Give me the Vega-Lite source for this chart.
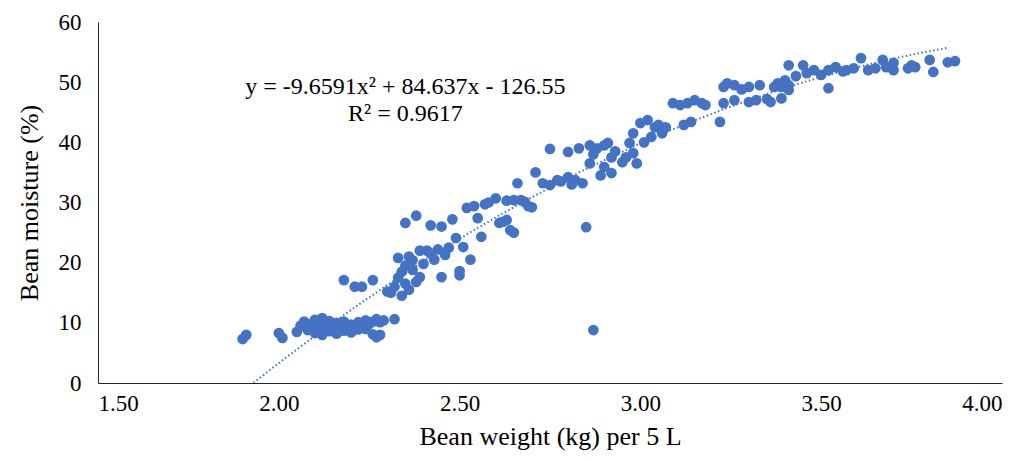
{
  "$schema": "https://vega.github.io/schema/vega-lite/v6.json",
  "autosize": "none",
  "width": 904,
  "height": 361,
  "padding": {"left": 98, "top": 22, "right": 13, "bottom": 78},
  "background": "white",
  "config": {"view": {"stroke": null}, "font": "Liberation Serif"},
  "datasets": {
    "pts": [
      {"w":1.90,"m":7.3},{"w":1.91,"m":8.0},{"w":2.00,"m":8.3},{"w":2.01,"m":7.5},
      {"w":2.05,"m":8.5},{"w":2.06,"m":9.5},{"w":2.07,"m":10.2},{"w":2.08,"m":8.8},{"w":2.09,"m":9.8},{"w":2.10,"m":10.5},{"w":2.10,"m":8.3},{"w":2.11,"m":9.2},{"w":2.12,"m":10.8},{"w":2.12,"m":8.0},{"w":2.13,"m":9.6},{"w":2.14,"m":10.3},{"w":2.14,"m":8.6},{"w":2.15,"m":9.1},{"w":2.16,"m":10.0},{"w":2.16,"m":8.2},{"w":2.17,"m":9.4},{"w":2.18,"m":8.7},{"w":2.18,"m":10.2},{"w":2.19,"m":9.0},{"w":2.20,"m":9.7},{"w":2.20,"m":8.4},{"w":2.21,"m":9.3},{"w":2.22,"m":10.1},{"w":2.22,"m":8.9},{"w":2.23,"m":9.6},{"w":2.24,"m":10.4},{"w":2.24,"m":9.0},{"w":2.25,"m":9.8},{"w":2.26,"m":10.2},{"w":2.26,"m":8.1},{"w":2.27,"m":10.6},{"w":2.27,"m":7.6},{"w":2.28,"m":10.1},{"w":2.28,"m":8.0},{"w":2.29,"m":10.4},{"w":2.32,"m":10.6},
      {"w":2.18,"m":17.1},{"w":2.21,"m":16.0},{"w":2.23,"m":16.0},{"w":2.26,"m":17.1},
      {"w":2.30,"m":15.2},{"w":2.31,"m":15.0},{"w":2.32,"m":16.0},{"w":2.33,"m":17.5},{"w":2.33,"m":20.8},{"w":2.34,"m":14.5},{"w":2.34,"m":18.5},{"w":2.35,"m":16.5},{"w":2.35,"m":19.5},{"w":2.35,"m":26.6},{"w":2.36,"m":15.5},{"w":2.36,"m":21.0},{"w":2.37,"m":18.8},{"w":2.37,"m":20.4},{"w":2.38,"m":27.8},{"w":2.38,"m":16.8},{"w":2.39,"m":17.6},{"w":2.39,"m":22.0},{"w":2.40,"m":19.8},{"w":2.41,"m":22.0},{"w":2.42,"m":26.2},{"w":2.42,"m":21.5},{"w":2.43,"m":20.5},{"w":2.44,"m":22.2},{"w":2.45,"m":17.6},{"w":2.45,"m":26.0},{"w":2.46,"m":21.3},{"w":2.47,"m":22.5},{"w":2.48,"m":27.2},{"w":2.49,"m":24.1},{"w":2.50,"m":17.9},{"w":2.50,"m":18.6},{"w":2.51,"m":22.6},{"w":2.52,"m":29.1},{"w":2.53,"m":20.5},{"w":2.54,"m":29.4},{"w":2.55,"m":27.4},{"w":2.56,"m":24.3},{"w":2.57,"m":29.7},{"w":2.58,"m":30.0},{"w":2.60,"m":30.7},{"w":2.61,"m":26.6},{"w":2.62,"m":26.8},{"w":2.63,"m":27.1},{"w":2.63,"m":30.3},{"w":2.64,"m":25.4},{"w":2.65,"m":30.4},{"w":2.65,"m":25.0},{"w":2.66,"m":33.2},{"w":2.67,"m":30.4},{"w":2.68,"m":30.1},{"w":2.69,"m":29.4},{"w":2.70,"m":29.2},
      {"w":2.87,"m":8.8},
      {"w":2.71,"m":35.0},{"w":2.73,"m":33.2},{"w":2.75,"m":32.9},{"w":2.75,"m":38.9},{"w":2.77,"m":33.7},{"w":2.78,"m":33.5},{"w":2.80,"m":34.2},{"w":2.80,"m":38.4},{"w":2.81,"m":33.0},{"w":2.82,"m":33.7},{"w":2.83,"m":39.0},{"w":2.84,"m":33.2},{"w":2.85,"m":25.9},{"w":2.86,"m":39.5},{"w":2.86,"m":36.5},{"w":2.87,"m":38.0},{"w":2.88,"m":39.0},{"w":2.89,"m":34.5},{"w":2.90,"m":39.5},{"w":2.90,"m":35.9},{"w":2.91,"m":39.9},{"w":2.92,"m":37.5},{"w":2.92,"m":34.9},{"w":2.93,"m":38.5},{"w":2.95,"m":36.7},{"w":2.96,"m":37.5},{"w":2.97,"m":39.9},{"w":2.98,"m":38.2},{"w":2.98,"m":41.5},{"w":2.99,"m":36.5},
      {"w":3.00,"m":43.2},{"w":3.01,"m":40.0},{"w":3.02,"m":43.7},{"w":3.03,"m":40.9},{"w":3.04,"m":42.5},{"w":3.05,"m":42.9},{"w":3.06,"m":41.5},{"w":3.07,"m":42.5},{"w":3.09,"m":46.5},{"w":3.11,"m":46.2},{"w":3.12,"m":42.9},{"w":3.13,"m":46.5},{"w":3.14,"m":43.4},{"w":3.15,"m":47.0},{"w":3.17,"m":46.5},{"w":3.18,"m":46.2},{"w":3.22,"m":43.4},{"w":3.23,"m":46.5},{"w":3.23,"m":49.2},{"w":3.24,"m":49.8},{"w":3.26,"m":47.0},{"w":3.26,"m":49.5},{"w":3.28,"m":48.8},{"w":3.30,"m":46.7},{"w":3.30,"m":49.2},{"w":3.32,"m":47.0},{"w":3.33,"m":49.5},{"w":3.35,"m":47.2},{"w":3.36,"m":46.7},{"w":3.37,"m":49.2},{"w":3.38,"m":49.8},{"w":3.39,"m":47.3},{"w":3.39,"m":49.2},{"w":3.40,"m":50.3},{"w":3.41,"m":49.5},{"w":3.41,"m":48.7},{"w":3.41,"m":52.8},{"w":3.43,"m":51.0},{"w":3.45,"m":52.8},{"w":3.46,"m":51.5},{"w":3.48,"m":52.0},{"w":3.50,"m":51.2},{"w":3.52,"m":49.0},{"w":3.52,"m":52.0},{"w":3.54,"m":52.5},{"w":3.56,"m":51.8},{"w":3.57,"m":52.0},{"w":3.59,"m":52.3},{"w":3.61,"m":54.0},{"w":3.63,"m":52.0},{"w":3.65,"m":52.3},{"w":3.67,"m":53.7},{"w":3.68,"m":52.5},{"w":3.70,"m":52.0},{"w":3.70,"m":53.2},{"w":3.74,"m":52.3},{"w":3.75,"m":52.8},{"w":3.76,"m":52.5},{"w":3.80,"m":53.7},{"w":3.81,"m":51.7},{"w":3.85,"m":53.3},{"w":3.87,"m":53.5}
    ],
    "notes": [
      {"w": 2.35, "m": 49.2, "label": "y = -9.6591x² + 84.637x - 126.55"},
      {"w": 2.35, "m": 44.7, "label": "R² = 0.9617"}
    ]
  },
  "encoding": {
    "x": {"field": "w", "type": "quantitative",
      "scale": {"domain": [1.5, 4.0], "nice": false, "zero": false},
      "axis": {"title": "Bean weight (kg) per 5 L", "values": [1.5, 2.0, 2.5, 3.0, 3.5, 4.0], "format": ".2f",
        "grid": false, "ticks": false, "domainColor": "#262626", "labelColor": "#000", "titleColor": "#000",
        "labelFont": "Liberation Serif", "titleFont": "Liberation Serif", "labelFontSize": 23, "titleFontSize": 26,
        "titleFontWeight": "normal", "labelPadding": 9, "titlePadding": 8}},
    "y": {"field": "m", "type": "quantitative",
      "scale": {"domain": [0, 60], "nice": false},
      "axis": {"title": "Bean moisture (%)", "values": [0, 10, 20, 30, 40, 50, 60],
        "grid": false, "ticks": false, "domainColor": "#262626", "labelColor": "#000", "titleColor": "#000",
        "labelFont": "Liberation Serif", "titleFont": "Liberation Serif", "labelFontSize": 23, "titleFontSize": 26,
        "titleFontWeight": "normal", "labelPadding": 17, "titlePadding": 16}}
  },
  "layer": [
    {"data": {"name": "pts"},
     "mark": {"type": "circle", "size": 115, "color": "#4472C4", "opacity": 1}},
    {"data": {"name": "pts"},
     "transform": [{"regression": "m", "on": "w", "method": "poly", "order": 2, "extent": [1.9127, 3.85]}],
     "mark": {"type": "line", "color": "#4472C4", "strokeWidth": 2, "strokeDash": [1.5, 2.5], "clip": true}},
    {"data": {"name": "notes"},
     "mark": {"type": "text", "font": "Liberation Serif", "fontSize": 24, "color": "#000", "align": "center", "baseline": "middle"},
     "encoding": {"text": {"field": "label"}}}
  ]
}
